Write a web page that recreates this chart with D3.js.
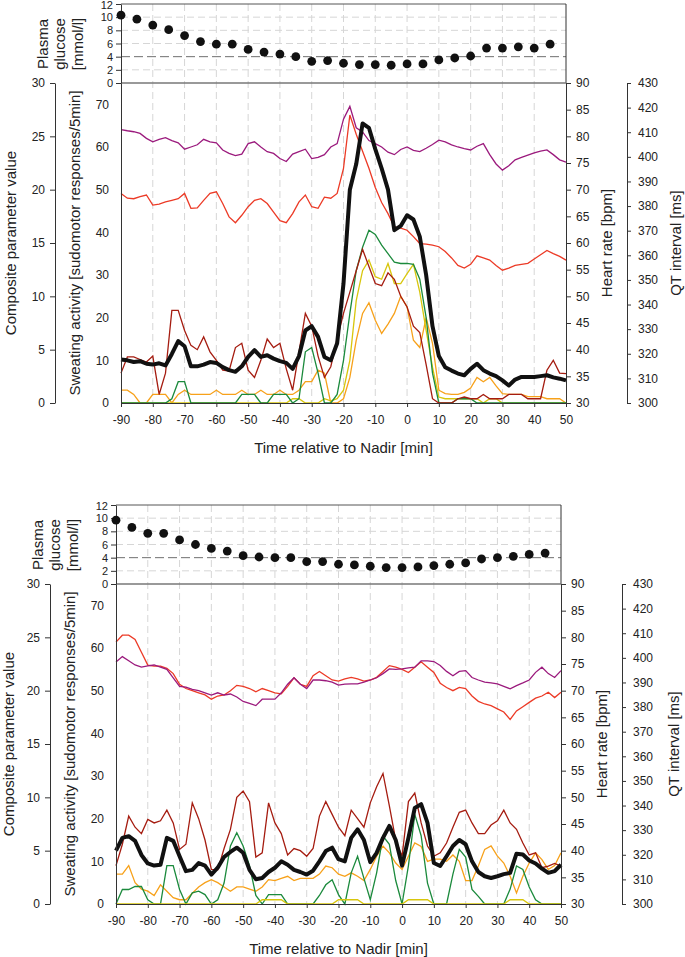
<!DOCTYPE html>
<html>
<head>
<meta charset="utf-8">
<script src="https://cdn.jsdelivr.net/npm/d3@7"></script>
<style>
body { margin: 0; background: #fff; }
svg { font-family: "Liberation Sans", Arial, sans-serif; }
.axis text { font-size: 12px; fill: #222; }
.axis.glu text { font-size: 11px; }
.axis path, .axis line { stroke: #333; }
.title { font-size: 15px; fill: #222; }
</style>
</head>
<body>
<div id="chart"></div>
<script>
// sampling grids (min relative to nadir)
var minutes = d3.range(-90, 51, 2);
var glucoseMinutes = d3.range(-90, 46, 5);

// ---- upper recording ----
var topGlucose = [10.3, 9.7, 8.8, 8.1, 7.2, 6.3, 5.9, 5.9, 5.1, 4.7, 4.4, 4.0, 3.3, 3.4, 3.0,
    2.8, 2.8, 2.7, 2.9, 2.9, 3.5, 3.8, 4.1, 5.3, 5.3, 5.5, 5.3, 5.9];
var topComposite = [4.08, 4.0, 3.84, 3.92, 3.68, 3.6, 3.72, 3.52, 4.6, 5.8,
    5.32, 3.44, 3.44, 3.6, 3.84, 3.76, 3.36, 3.08, 2.92, 3.44,
    4.32, 4.96, 4.32, 4.48, 4.16, 3.92, 3.76, 3.2, 4.4, 6.8,
    7.2, 6.2, 4.32, 4.0, 5.6, 11.2, 20, 22.4, 26.2, 25.8,
    23.8, 22, 20, 16.2, 16.6, 17.6, 17.2, 15.6, 12, 7.2,
    4.4, 3.36, 3.04, 2.76, 2.6, 3.2, 3.68, 3.08, 2.76, 2.52,
    2.12, 1.64, 2.2, 2.44, 2.44, 2.44, 2.52, 2.6, 2.4, 2.28, 2.12];
var topHeartRate = [69.3, 68.4, 68.3, 68.7, 69.0, 67.1, 67.3, 67.7, 68.0, 68.3,
    69.3, 66.5, 66.6, 68.0, 69.3, 69.6, 67.4, 64.9, 63.8, 65.2,
    66.8, 68.0, 68.3, 67.4, 65.8, 64.2, 63.8, 65.5, 67.7, 69.0,
    66.8, 66.5, 68.6, 68.4, 69.3, 74.0, 84.0, 80.4, 77.2, 74.0,
    70.4, 67.6, 65.5, 63.0, 62.8, 62.4, 61.2, 59.9, 59.8, 59.6,
    59.3, 58.4, 57.2, 55.8, 55.3, 56.0, 57.6, 57.2, 56.8, 55.8,
    54.9, 55.3, 55.8, 56.0, 56.2, 57.0, 57.8, 58.6, 58.0, 57.5, 56.8];
var topQT = [411.1, 410.6, 410.2, 409.5, 407.5, 406.1, 407.1, 407.8, 406.6, 405.7,
    403.1, 404.0, 404.9, 407.1, 406.1, 405.7, 402.8, 401.4, 400.5, 401.1,
    405.4, 406.1, 404.0, 402.1, 401.4, 399.3, 398.1, 401.1, 402.1, 403.1,
    399.3, 399.8, 400.9, 404.0, 405.4, 415.3, 420.5, 411.8, 410.1, 406.6,
    405.4, 404.0, 401.9, 400.9, 403.0, 404.0, 402.6, 402.1, 403.5, 405.0,
    406.8, 406.1, 404.9, 404.0, 403.3, 402.8, 404.3, 405.4, 400.9, 397.1,
    394.6, 396.4, 398.8, 399.8, 400.7, 401.6, 402.3, 402.8, 400.9, 398.8, 397.9];
var topSweatDarkRed = [7, 10.8, 10.8, 10.2, 9.6, 11, 2, 7, 21.7, 21.7,
    17, 13.5, 12.5, 15.5, 12, 10, 7.7, 7.5, 13, 14,
    7.7, 6, 10, 15, 13, 14, 8, 3, 12, 21,
    18, 11, 6, 8.5, 15, 21, 26, 31, 36, 32,
    28, 27.5, 30.5, 29, 25, 22.5, 18, 16.5, 9, 1,
    0, 0, 0, 1, 1.4, 1, 1, 2, 1, 1,
    1, 2, 2, 2, 1, 1, 1, 7.7, 10, 7, 6.9];
var topSweatGreen = [0, 0, 0, 0, 0, 0, 0, 0, 1, 5,
    5, 0, 0, 0, 0, 0, 0, 0, 0, 2,
    2, 2, 0, 0, 2, 2, 2, 0, 1, 12,
    13, 7, 0, 0, 2, 10, 21, 31, 36.5, 40.5,
    39.5, 37, 35, 33, 32.7, 32.7, 32.5, 29, 20, 7,
    0, 0, 0, 1, 1, 1, 0, 0, 0, 0,
    0, 0, 0, 0, 0, 0, 0, 0, 0, 0, 0];
var topSweatYellow = [0, 0, 0, 0, 0, 0, 0, 0, 0, 0,
    0, 0, 0, 0, 0, 0, 0, 0, 0, 0,
    0, 0, 0, 0, 0, 0, 0, 1, 1, 0,
    0, 0, 1, 0.5, 1, 3, 10, 24, 31, 33.5,
    29.6, 29, 32.7, 28, 28, 30.3, 32.5, 26, 17, 8.4,
    1.4, 1, 1, 1, 1, 1, 1, 0, 1, 1,
    0, 0, 0, 0, 0, 0, 0, 0, 0, 0, 0];
var topSweatOrange = [3, 3, 2, 0, 0, 2, 2, 2, 0, 2,
    3, 2, 2, 2, 2, 3, 2, 2, 2, 3,
    2, 2, 3, 2, 2, 3, 2, 2, 3, 5,
    5, 7.7, 7, 0, 0, 1, 6, 14.7, 21, 23.5,
    19.4, 16.3, 18.5, 21, 25, 22.5, 14.7, 13, 20, 14,
    3, 2.2, 2, 2, 2.5, 3.5, 6, 5, 6, 4,
    2.2, 2, 2, 2, 1.5, 1.5, 1.5, 1, 1, 1, 0];

// ---- lower recording ----
var bottomGlucose = [9.7, 8.6, 7.7, 7.7, 6.7, 6.0, 5.4, 5.0, 4.3, 4.1, 4.0, 4.0, 3.4, 3.4, 3.0,
    2.9, 2.7, 2.5, 2.5, 2.6, 2.8, 3.0, 3.2, 3.8, 4.0, 4.2, 4.5, 4.7];
var bottomComposite = [5.0, 6.2, 6.36, 5.92, 4.6, 3.8, 3.6, 3.68, 6.2, 5.92,
    4.48, 3.08, 3.2, 3.84, 3.6, 2.76, 3.4, 4.4, 4.88, 5.28,
    4.8, 3.2, 2.32, 2.44, 3.0, 3.4, 4.0, 3.68, 3.2, 3.0,
    2.76, 3.12, 4.0, 4.96, 5.28, 4.2, 4.0, 6.2, 7.0, 6.0,
    3.92, 4.8, 6.2, 7.32, 6.0, 3.6, 6.2, 9.0, 9.36, 7.6,
    3.84, 3.56, 4.48, 5.44, 6.0, 5.6, 4.0, 3.0, 2.6, 2.44,
    2.6, 2.8, 2.92, 4.72, 4.64, 4.08, 3.8, 3.32, 2.92, 3.08, 3.68];
var bottomHeartRate = [79.1, 80.4, 80.4, 79.6, 77.2, 74.8, 74.6, 74.6, 74.2, 73.2,
    71.2, 70.4, 70.0, 69.6, 69.2, 68.4, 69.0, 69.2, 70.0, 71.0,
    70.8, 70.4, 69.8, 70.4, 70.0, 69.6, 69.4, 70.8, 72.4, 71.2,
    70.8, 72.8, 73.6, 72.8, 72.0, 71.8, 72.2, 72.5, 72.2, 71.8,
    72.0, 72.5, 73.6, 74.7, 74.4, 74.0, 73.4, 74.4, 75.4, 74.4,
    73.4, 71.4, 70.6, 70.0, 70.6, 70.4, 69.0, 68.0, 67.5, 67.2,
    66.6, 66.0, 64.6, 66.2, 67.0, 67.8, 68.6, 69.0, 69.7, 68.7, 69.7];
var bottomQT = [398.3, 400.5, 398.8, 397.1, 396.2, 396.7, 397.1, 396.2, 395.3, 391.9,
    388.4, 388.1, 387.2, 386.7, 385.8, 384.9, 385.8, 384.9, 385.3, 384.1,
    382.3, 381.5, 380.6, 383.2, 383.2, 383.2, 385.8, 389.3, 391.9, 389.3,
    387.5, 391.0, 391.0, 390.7, 390.1, 388.9, 389.3, 389.4, 389.4, 390.1,
    391.0, 391.9, 393.6, 395.5, 395.3, 395.5, 395.9, 396.2, 398.8, 398.8,
    398.5, 396.9, 394.5, 392.7, 394.5, 394.8, 392.0, 391.0, 390.1, 389.8,
    389.4, 388.4, 387.4, 388.7, 389.8, 391.0, 394.1, 396.2, 393.6, 392.0, 394.8];
var bottomSweatDarkRed = [9, 14, 20.6, 18, 16.5, 19.8, 19, 19.5, 22, 19,
    12.8, 14, 23.7, 20, 15, 8.1, 8, 13, 17.5, 25,
    26.5, 24, 11, 12, 23.7, 19, 16.5, 11.5, 13, 12.5,
    11.2, 13, 20.6, 24, 21, 18, 16, 22, 20, 18,
    23.7, 27.5, 30.6, 23, 15, 11.2, 24, 26, 19, 13.6,
    11.2, 12, 14.3, 18, 21.5, 22, 19, 16.5, 16.5, 18.5,
    19.5, 22, 19, 17.5, 14.3, 11.5, 12, 8.5, 8.9, 9.5, 8.9];
var bottomSweatGreen = [0, 3.4, 3.4, 4.1, 4.1, 1, 0, 0, 9, 9,
    3.4, 0, 2.6, 3, 2.2, 0, 1, 4.9, 13.6, 16.7,
    13.6, 9, 2, 0, 2.2, 2.2, 2.2, 0, 0, 0,
    0, 0, 2, 4.5, 5.7, 2.2, 0, 7.3, 11.2, 6,
    1, 7.3, 15.9, 14, 5.5, 0, 9, 21, 16, 4.9,
    0, 0, 0, 7, 12.8, 11, 3.4, 1.8, 0, 0,
    0, 0, 3.5, 8.9, 8.1, 4, 1, 0, 0, 0, 0];
var bottomSweatYellow = [0, 0, 0, 0, 0, 0, 0, 0, 0, 0,
    0, 0, 0, 0, 0, 0, 0, 0, 0, 0,
    0, 0, 0, 1, 1, 1, 1, 0, 0, 0,
    0, 0, 0, 0, 0, 1, 1, 1, 1, 0,
    0, 0, 0, 0, 0, 0, 1, 1, 1, 1,
    0, 0, 0, 0, 0, 0, 0, 0, 0, 0,
    0, 0, 1, 1, 1, 0, 0, 0, 0, 0, 0];
var bottomSweatOrange = [7, 7, 9, 5, 3.5, 3, 2, 4.5, 3, 1.5,
    1, 1, 2.5, 4, 5, 5.7, 5, 4, 3, 4,
    4, 3.5, 3, 4, 5.7, 5.5, 6, 6.5, 5.5, 6,
    6, 6, 7, 8.9, 8.5, 7, 6.5, 7.3, 6.5, 5.5,
    8.1, 11.2, 13.6, 12, 9.6, 8.1, 11.2, 14.3, 13.5, 10,
    10.5, 10.5, 10, 11.5, 10, 5.5, 5.5, 8.9, 12.8, 13.6,
    11.2, 9.6, 6.5, 2.6, 6.5, 9.6, 12, 10.4, 8.1, 9, 12];

var colours = {
    darkred: "#a51c10", green: "#1b8a3c", orange: "#f7a11a",
    yellow: "#d8c60c", red: "#ec3a26", purple: "#9b1a7d"
};

var svg = d3.select("#chart").append("svg")
    .attr("width", 685)
    .attr("height", 957);

var plain = function(d){ return String(d); };

function drawPanel(dx, dy, p) {
    var g = svg.append("g")
        .attr("transform", "translate(" + dx + "," + dy + ")");

    var x = d3.scaleLinear().domain([-90, 50]).range([121, 566]);
    var yGlu = d3.scaleLinear().domain([0, 12]).range([83, 4]);
    var ySweat = d3.scaleLinear().domain([0, 75]).range([403, 83]);
    var yComp = d3.scaleLinear().domain([0, 30]).range([403, 83]);
    var yHR = d3.scaleLinear().domain([30, 90]).range([403, 83]);
    var yQT = d3.scaleLinear().domain([300, 430]).range([403, 83]);

    // grid
    g.selectAll(".vgrid")
        .data(d3.range(-80, 50, 10))
        .enter().append("line")
        .attr("x1", function(d){ return x(d); })
        .attr("x2", function(d){ return x(d); })
        .attr("y1", yGlu(12))
        .attr("y2", ySweat(0))
        .attr("stroke", "#d6d6d6")
        .attr("stroke-dasharray", "7,4");

    g.selectAll(".hgrid")
        .data([2, 6, 8, 10])
        .enter().append("line")
        .attr("x1", x(-90)).attr("x2", x(50))
        .attr("y1", function(d){ return yGlu(d); })
        .attr("y2", function(d){ return yGlu(d); })
        .attr("stroke", "#d6d6d6")
        .attr("stroke-dasharray", "7,4");

    // hypoglycaemia threshold
    g.append("line")
        .attr("x1", x(-90)).attr("x2", x(50))
        .attr("y1", yGlu(4)).attr("y2", yGlu(4))
        .attr("stroke", "#707070")
        .attr("stroke-dasharray", "9,4");

    // glucose box
    g.append("line")
        .attr("x1", x(-90)).attr("x2", x(50))
        .attr("y1", yGlu(12)).attr("y2", yGlu(12))
        .attr("stroke", "#555");
    g.append("line")
        .attr("x1", x(50)).attr("x2", x(50))
        .attr("y1", yGlu(12)).attr("y2", yGlu(0))
        .attr("stroke", "#333");

    // lines
    var lineOn = function(scale){
        return d3.line()
            .x(function(d, i){ return x(minutes[i]); })
            .y(function(d){ return scale(d); });
    };

    p.sweat.forEach(function(s){
        g.append("path")
            .datum(s.values)
            .attr("fill", "none")
            .attr("stroke", s.colour)
            .attr("stroke-width", 1.3)
            .attr("d", lineOn(ySweat));
    });

    g.append("path")
        .datum(p.heartRate)
        .attr("fill", "none")
        .attr("stroke", colours.red)
        .attr("stroke-width", 1.3)
        .attr("d", lineOn(yHR));

    g.append("path")
        .datum(p.qt)
        .attr("fill", "none")
        .attr("stroke", colours.purple)
        .attr("stroke-width", 1.3)
        .attr("d", lineOn(yQT));

    g.append("path")
        .datum(p.composite)
        .attr("fill", "none")
        .attr("stroke", "#111")
        .attr("stroke-width", 4)
        .attr("stroke-linejoin", "round")
        .attr("d", lineOn(yComp));

    // glucose zero line
    g.append("line")
        .attr("x1", x(-90)).attr("x2", x(50))
        .attr("y1", yGlu(0)).attr("y2", yGlu(0))
        .attr("stroke", "#777")
        .attr("stroke-width", 1.6);

    // axes
    g.append("g")
        .attr("class", "axis glu")
        .attr("transform", "translate(" + x(-90) + ",0)")
        .call(d3.axisLeft(yGlu).tickValues(d3.range(0, 13, 2))
            .tickSize(5).tickSizeOuter(0).tickPadding(3).tickFormat(plain))
        .selectAll("text")
        .attr("dy", function(d){ return d === 12 ? "0.42em" : "0.32em"; });

    g.append("g")
        .attr("class", "axis")
        .attr("transform", "translate(" + x(-90) + ",0)")
        .call(d3.axisLeft(ySweat).tickValues(d3.range(0, 71, 10))
            .tickSize(0).tickPadding(12).tickFormat(plain));

    g.append("g")
        .attr("class", "axis")
        .attr("transform", "translate(55,0)")
        .call(d3.axisLeft(yComp).tickValues(d3.range(0, 31, 5))
            .tickSize(5).tickSizeOuter(0).tickPadding(5).tickFormat(plain));

    g.append("g")
        .attr("class", "axis")
        .attr("transform", "translate(" + x(50) + ",0)")
        .call(d3.axisRight(yHR).tickValues(d3.range(30, 91, 5))
            .tickSize(5).tickSizeOuter(0).tickPadding(5).tickFormat(plain));

    g.append("g")
        .attr("class", "axis")
        .attr("transform", "translate(627,0)")
        .call(d3.axisRight(yQT).tickValues(d3.range(300, 431, 10))
            .tickSize(4).tickSizeOuter(0).tickPadding(7).tickFormat(plain));

    g.append("g")
        .attr("class", "axis")
        .attr("transform", "translate(0," + ySweat(0) + ")")
        .call(d3.axisBottom(x).tickValues(d3.range(-90, 51, 10))
            .tickSize(4).tickSizeOuter(0).tickPadding(8).tickFormat(plain));

    // glucose samples
    g.selectAll(".dot")
        .data(p.glucose)
        .enter().append("circle")
        .attr("cx", function(d, i){ return x(glucoseMinutes[i]); })
        .attr("cy", function(d){ return yGlu(d); })
        .attr("r", 4.4)
        .attr("fill", "#111");

    // axis titles
    var vtitle = function(text, cx, cy){
        g.append("text")
            .attr("class", "title")
            .attr("transform", "translate(" + cx + "," + cy + ") rotate(-90)")
            .attr("dy", "0.35em")
            .style("text-anchor", "middle")
            .text(text);
    };
    vtitle("Composite parameter value", p.compX, 243);
    vtitle("Sweating activity [sudomotor responses/5min]", 75, 243);
    vtitle("Heart rate [bpm]", 607, 243);
    vtitle("QT interval [ms]", p.qtX, 243);
    vtitle("Plasma", 43, 44);
    vtitle("glucose", 60, 44);
    vtitle("[mmol/l]", 78, 44);

    g.append("text")
        .attr("class", "title")
        .attr("x", (x(-90) + x(50)) / 2)
        .attr("y", 453)
        .style("text-anchor", "middle")
        .text("Time relative to Nadir [min]");
}

drawPanel(0, 0, {
    glucose: topGlucose,
    composite: topComposite,
    heartRate: topHeartRate,
    qt: topQT,
    compX: 11,
    qtX: 676,
    sweat: [
        {values: topSweatOrange, colour: colours.orange},
        {values: topSweatYellow, colour: colours.yellow},
        {values: topSweatGreen, colour: colours.green},
        {values: topSweatDarkRed, colour: colours.darkred}
    ]
});

drawPanel(-5, 501, {
    glucose: bottomGlucose,
    composite: bottomComposite,
    heartRate: bottomHeartRate,
    qt: bottomQT,
    compX: 14,
    qtX: 679,
    sweat: [
        {values: bottomSweatOrange, colour: colours.orange},
        {values: bottomSweatGreen, colour: colours.green},
        {values: bottomSweatYellow, colour: colours.yellow},
        {values: bottomSweatDarkRed, colour: colours.darkred}
    ]
});
</script>
</body>
</html>
